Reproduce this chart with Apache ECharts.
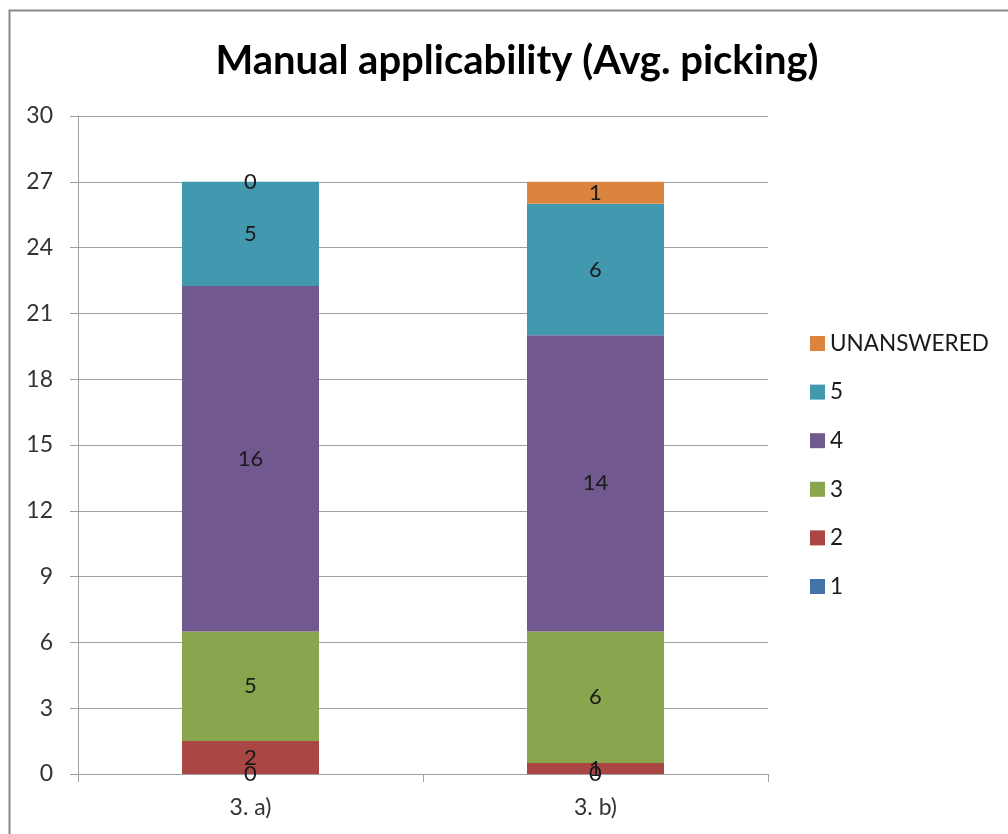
<!DOCTYPE html>
<html>
<head>
<meta charset="utf-8">
<title>Manual applicability (Avg. picking)</title>
<script src="https://cdn.jsdelivr.net/npm/echarts@6/dist/echarts.min.js"></script>
<style>
  html, body { margin: 0; padding: 0; background: #ffffff; }
  #chart { width: 1008px; height: 834px; }
</style>
</head>
<body>
<div id="chart"></div>
<script>
// Questions on the category axis
const categories = ['3. a)', '3. b)'];

// Average number of pickings per answer, one array per answer option
const seriesNames = ['1', '2', '3', '4', '5', 'UNANSWERED'];
const values1 = [0, 0];
const values2 = [1.5, 0.5];
const values3 = [5, 6];
const values4 = [15.75, 13.5];
const values5 = [4.75, 6];
const valuesUnanswered = [0, 1];

// Value axis ticks
const yMin = 0;
const yMax = 30;
const yStep = 3;

const seriesValues = [values1, values2, values3, values4, values5, valuesUnanswered];
const colors = ['#4572A7', '#AA4643', '#89A54E', '#71588F', '#4298AF', '#DB843D'];

const FONT = 'Lato, "Open Sans", sans-serif';
const chart = echarts.init(document.getElementById('chart'), null, { renderer: 'canvas' });

chart.setOption({
  animation: false,
  backgroundColor: '#ffffff',
  title: {
    text: 'Manual applicability (Avg. picking)',
    left: 512,
    top: 36,
    textAlign: 'center',
    textStyle: { fontFamily: FONT, fontSize: 40, fontWeight: 'bold', color: '#000000' }
  },
  graphic: [{
    type: 'rect',
    shape: { x: 9.5, y: 10.5, width: 1100, height: 1000 },
    style: { fill: 'none', stroke: '#888888', lineWidth: 2 },
    silent: true
  }],
  legend: {
    orient: 'vertical',
    left: 805,
    top: 327,
    itemWidth: 15,
    itemHeight: 15,
    itemGap: 25.6,
    icon: 'rect',
    data: seriesNames.slice().reverse(),
    textStyle: { fontFamily: FONT, fontSize: 22.5, color: '#1a1a1a', lineHeight: 22 }
  },
  grid: { left: 78, right: 240, top: 116, bottom: 60, containLabel: false },
  xAxis: {
    type: 'category',
    data: categories,
    axisLine: { show: true, lineStyle: { color: '#a0a0a0', width: 1 } },
    axisTick: { show: true, length: 8, lineStyle: { color: '#a0a0a0' } },
    axisLabel: { fontFamily: FONT, fontSize: 23, color: '#333333', margin: 22 }
  },
  yAxis: {
    type: 'value',
    min: yMin,
    max: yMax,
    interval: yStep,
    axisLine: { show: true, lineStyle: { color: '#a0a0a0', width: 1 } },
    axisTick: { show: true, length: 8, lineStyle: { color: '#a0a0a0' } },
    axisLabel: { fontFamily: FONT, fontSize: 23, color: '#333333', margin: 25 },
    splitLine: { show: true, lineStyle: { color: '#a0a0a0', width: 1 } }
  },
  series: seriesNames.map((name, i) => ({
    name: name,
    type: 'bar',
    stack: 'total',
    barWidth: 137,
    data: seriesValues[i],
    itemStyle: { color: colors[i] },
    label: {
      show: true,
      position: 'inside',
      formatter: p => String(Math.round(p.value)),
      fontFamily: FONT,
      fontSize: 22,
      color: '#1a1a1a'
    }
  }))
});
</script>
</body>
</html>
